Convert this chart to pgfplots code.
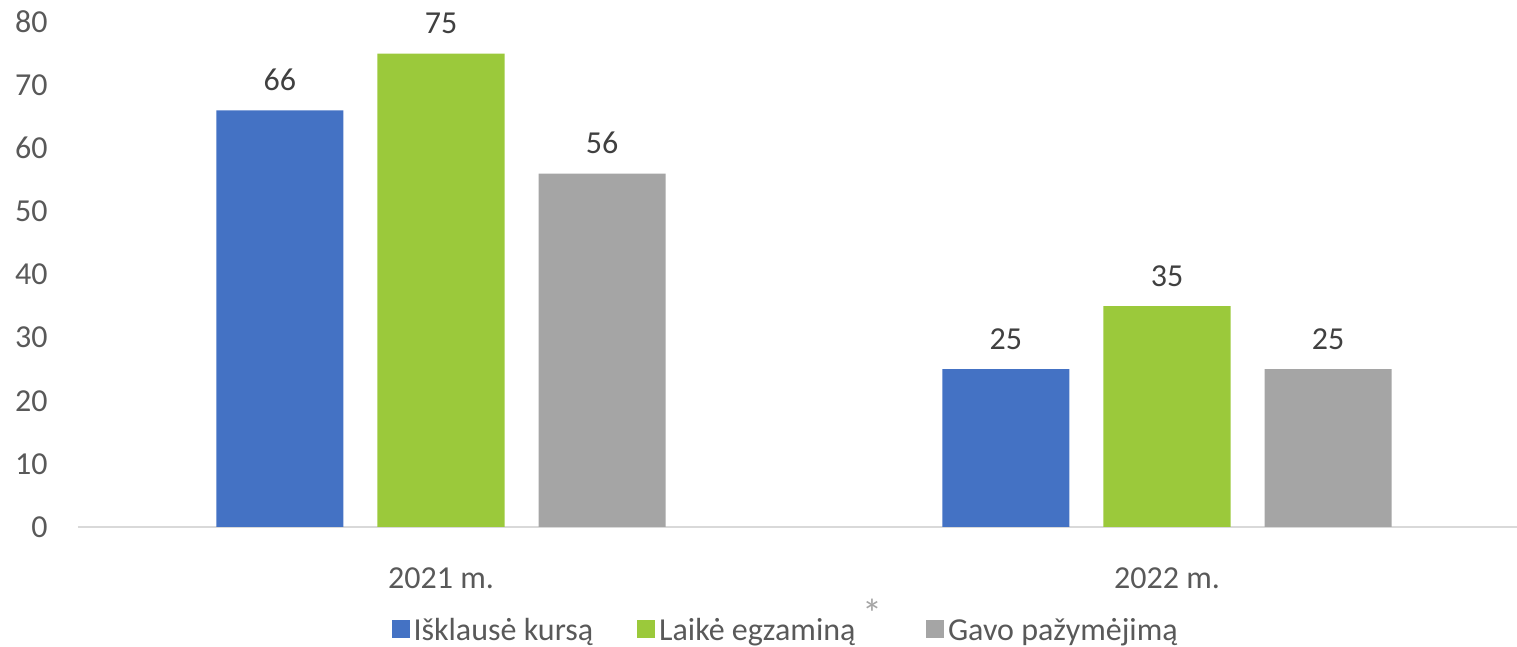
\documentclass[border=0pt]{standalone}
\usepackage{pgfplots}
\pgfplotsset{compat=1.18}
\usepackage{fontspec}
\setmainfont{Carlito}

\definecolor{cBlue}{HTML}{4472C4}
\definecolor{cGreen}{HTML}{9BC93B}
\definecolor{cGray}{HTML}{A5A5A5}
\definecolor{cText}{HTML}{595959}
\definecolor{cLab}{HTML}{404040}
\definecolor{cAxis}{HTML}{D9D9D9}

\pgfplotsset{sqlegend/.style={legend image code/.code={\fill[##1] (0pt,-3.5pt) rectangle (9pt,5.5pt);}}}

\begin{document}
\begin{tikzpicture}[font=\fontsize{16}{19}\selectfont]
  \useasboundingbox (0pt,0pt) rectangle (758.5pt,323.5pt);
  \begin{axis}[
    at={(39pt,60pt)}, anchor=south west,
    scale only axis, width=726pt, height=252.5pt,
    ybar, bar width=0.175,
    ymin=0, ymax=80, ytick={0,10,...,80},
    xmin=-0.5, xmax=1.5, xtick={0,1},
    xticklabels={2021 m., 2022 m.},
    axis x line*=bottom, axis y line*=left,
    x axis line style={-, draw=cAxis, line width=1pt},
    y axis line style={draw=none},
    ytick style={draw=none}, xtick style={draw=none},
    extra x ticks={-0.5,0.5,1.5}, extra x tick labels={},
    extra x tick style={tick align=outside, major tick length=5pt,
      tick style={draw=cAxis, line width=0.8pt}},
    /pgf/number format/assume math mode=true,
    yticklabel style={text=cText, anchor=east, inner sep=0pt, xshift=-15pt},
    xticklabel style={text=cText, anchor=north, inner sep=0pt, yshift=-16pt},
    nodes near coords,
    nodes near coords style={text=cLab, anchor=south, inner sep=0pt, yshift=9.5pt},
    sqlegend,
    legend columns=3,
    legend style={at={(0.488,-0.205)}, anchor=center, draw=none, fill=none,
      text=cText, /tikz/every even column/.append style={column sep=20pt}},
  ]
    \addplot[fill=cBlue, draw=none, bar shift=-0.222] coordinates {(0,66) (1,25)};
    \addplot[fill=cGreen, draw=none, bar shift=0] coordinates {(0,75) (1,35)};
    \addplot[fill=cGray, draw=none, bar shift=0.222] coordinates {(0,56) (1,25)};
    \legend{Išklausė kursą, Laikė egzaminą\smash{\raisebox{6.5pt}{\textcolor{cGray}{\fontsize{20}{20}\selectfont\,*}}}, Gavo pažymėjimą}
  \end{axis}
\end{tikzpicture}
\end{document}
